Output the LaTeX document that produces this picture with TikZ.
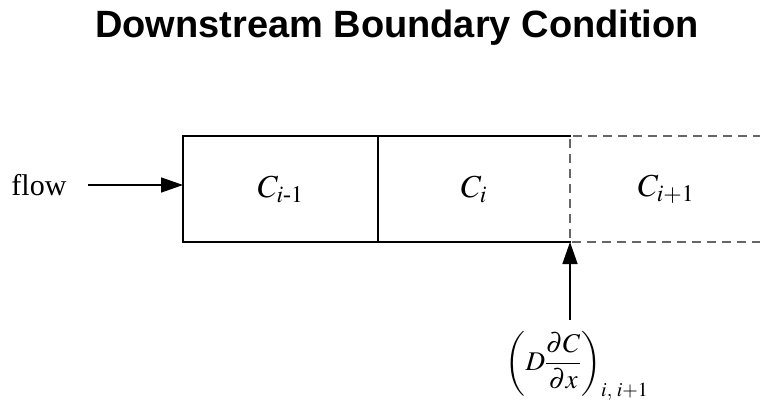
\documentclass[tikz,border=0pt]{standalone}
\usepackage{amsmath,amssymb}
\usepackage{mathptmx}
\usepackage{fontspec}
\setmainfont{Liberation Serif}
\setsansfont{Liberation Sans}
\usepackage{xcolor}
\usepackage{tikz}
\usetikzlibrary{arrows.meta, positioning}

\begin{document}
\begin{tikzpicture}[
  x=1pt, y=-1pt,
  node distance=0pt and 0pt,
  cell/.style={rectangle, inner sep=0pt, outer sep=0pt, minimum height=106pt,
               font=\fontsize{32}{36}\selectfont},
  edge/.style={line width=1.5pt, line cap=rect},
  ghost/.style={line width=1.5pt, dash pattern=on 9pt off 6pt, gray!80!black},
  arrow/.style={-{Triangle[length=22pt,width=15pt]}, line width=1.5pt}
]
  \useasboundingbox (0,0) rectangle (760,402);

  \node[font=\sffamily\bfseries\fontsize{38}{41}\selectfont] (title) at (397,28) {Downstream Boundary Condition};

  \node[cell, draw, line width=1.5pt, minimum width=195pt] (prev) at (280.5,189) {$C_{i\text{-}1}$};
  \node[cell, minimum width=192pt, right=of prev] (cur)  {$C_i$};
  \node[cell, minimum width=192pt, right=of cur]  (next) {$C_{i+1}$};

  \node[font=\fontsize{30}{34}\selectfont, anchor=east] (flow) at (70,185) {flow};
  \node[font=\fontsize{27}{30}\selectfont, inner sep=0pt] (flux) at (577,366)
    {$\left(D\dfrac{\partial C}{\partial x}\right)_{i,\;i+1}$};
  \coordinate (fluxtop) at (cur.south east |- 0,320);

  % current cell: solid top and bottom only
  \draw[edge] (cur.north west) -- (cur.north east);
  \draw[edge] (cur.south west) -- (cur.south east);
  % next cell is outside the domain
  \draw[ghost] (next.north east) -- (next.north west) -- (next.south west) -- (next.south east);

  \draw[arrow, shorten <=18pt] (flow.east) -- (flow.east -| prev.west);
  \draw[arrow] (fluxtop) -- (cur.south east);
\end{tikzpicture}
\end{document}
